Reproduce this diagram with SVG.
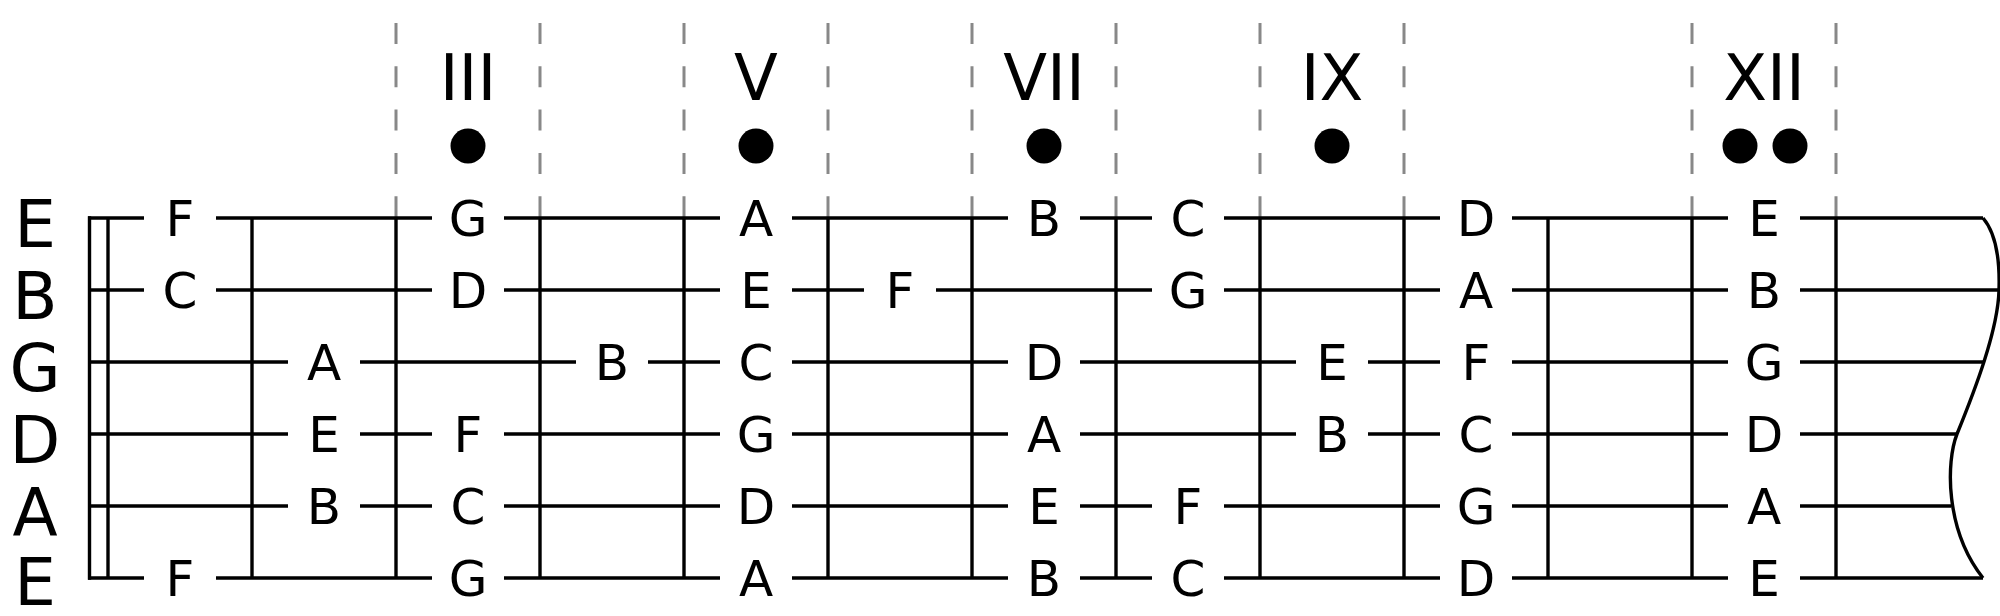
<svg xmlns="http://www.w3.org/2000/svg" width="2000" height="616" viewBox="0 0 2000 616">
<style>
.str{fill:none;stroke:#000;stroke-width:3.4}
.fret{stroke:#000;stroke-width:3.4}
.dash{stroke:#888;stroke-width:3;stroke-dasharray:21 22.3}
.note{font-family:"DejaVu Sans",sans-serif;font-size:50px;text-anchor:middle;fill:#000}
.open{font-family:"DejaVu Sans",sans-serif;font-size:66px;text-anchor:middle;fill:#000}
.roman{font-family:"DejaVu Sans",sans-serif;font-size:64px;text-anchor:middle;fill:#000}
.dot{fill:#000}
</style>
<rect width="2000" height="616" fill="#fff"/>
<g id="markers">
<line class="dash" x1="396" y1="23" x2="396" y2="218"/>
<line class="dash" x1="540" y1="23" x2="540" y2="218"/>
<line class="dash" x1="684" y1="23" x2="684" y2="218"/>
<line class="dash" x1="828" y1="23" x2="828" y2="218"/>
<line class="dash" x1="972" y1="23" x2="972" y2="218"/>
<line class="dash" x1="1116" y1="23" x2="1116" y2="218"/>
<line class="dash" x1="1260" y1="23" x2="1260" y2="218"/>
<line class="dash" x1="1404" y1="23" x2="1404" y2="218"/>
<line class="dash" x1="1692" y1="23" x2="1692" y2="218"/>
<line class="dash" x1="1836" y1="23" x2="1836" y2="218"/>
<text class="roman" x="468" y="100">III</text>
<text class="roman" x="756" y="100">V</text>
<text class="roman" x="1044" y="100">VII</text>
<text class="roman" x="1332" y="100">IX</text>
<text class="roman" x="1764" y="100">XII</text>
<circle class="dot" cx="468" cy="146" r="17.5"/>
<circle class="dot" cx="756" cy="146" r="17.5"/>
<circle class="dot" cx="1044" cy="146" r="17.5"/>
<circle class="dot" cx="1332" cy="146" r="17.5"/>
<circle class="dot" cx="1740" cy="146" r="17.5"/>
<circle class="dot" cx="1790" cy="146" r="17.5"/>
</g>
<g id="frets">
<line class="fret" x1="89.5" y1="216.3" x2="89.5" y2="579.7"/>
<line class="fret" x1="108" y1="218" x2="108" y2="578"/>
<line class="fret" x1="252" y1="218" x2="252" y2="578"/>
<line class="fret" x1="396" y1="218" x2="396" y2="578"/>
<line class="fret" x1="540" y1="218" x2="540" y2="578"/>
<line class="fret" x1="684" y1="218" x2="684" y2="578"/>
<line class="fret" x1="828" y1="218" x2="828" y2="578"/>
<line class="fret" x1="972" y1="218" x2="972" y2="578"/>
<line class="fret" x1="1116" y1="218" x2="1116" y2="578"/>
<line class="fret" x1="1260" y1="218" x2="1260" y2="578"/>
<line class="fret" x1="1404" y1="218" x2="1404" y2="578"/>
<line class="fret" x1="1548" y1="218" x2="1548" y2="578"/>
<line class="fret" x1="1692" y1="218" x2="1692" y2="578"/>
<line class="fret" x1="1836" y1="218" x2="1836" y2="578"/>
<path class="str" d="M1983,218 C1995,232 2000,258 1999,290 C1998,330 1975,390 1957,434 C1946,462 1945,530 1983,578"/>
</g>
<g id="strings">
<path class="str" d="M88,218H144M216,218H432M504,218H720M792,218H1008M1080,218H1152M1224,218H1440M1512,218H1728M1800,218H1983"/>
<path class="str" d="M88,290H144M216,290H432M504,290H720M792,290H864M936,290H1152M1224,290H1440M1512,290H1728M1800,290H2000"/>
<path class="str" d="M88,362H288M360,362H576M648,362H720M792,362H1008M1080,362H1296M1368,362H1440M1512,362H1728M1800,362H1984"/>
<path class="str" d="M88,434H288M360,434H432M504,434H720M792,434H1008M1080,434H1296M1368,434H1440M1512,434H1728M1800,434H1957"/>
<path class="str" d="M88,506H288M360,506H432M504,506H720M792,506H1008M1080,506H1152M1224,506H1440M1512,506H1728M1800,506H1951"/>
<path class="str" d="M88,578H144M216,578H432M504,578H720M792,578H1008M1080,578H1152M1224,578H1440M1512,578H1728M1800,578H1983"/>
</g>
<g id="open-strings">
<text class="open" x="35" y="246.5">E</text>
<text class="open" x="35" y="318.5">B</text>
<text class="open" x="35" y="390.5">G</text>
<text class="open" x="35" y="462.5">D</text>
<text class="open" x="35" y="534.5">A</text>
<text class="open" x="35" y="605">E</text>
</g>
<g id="notes-e1">
<text class="note" x="180" y="236.3">F</text>
<text class="note" x="468" y="236.3">G</text>
<text class="note" x="756" y="236.3">A</text>
<text class="note" x="1044" y="236.3">B</text>
<text class="note" x="1188" y="236.3">C</text>
<text class="note" x="1476" y="236.3">D</text>
<text class="note" x="1764" y="236.3">E</text>
</g>
<g id="notes-b">
<text class="note" x="180" y="308.3">C</text>
<text class="note" x="468" y="308.3">D</text>
<text class="note" x="756" y="308.3">E</text>
<text class="note" x="900" y="308.3">F</text>
<text class="note" x="1188" y="308.3">G</text>
<text class="note" x="1476" y="308.3">A</text>
<text class="note" x="1764" y="308.3">B</text>
</g>
<g id="notes-g">
<text class="note" x="324" y="380.3">A</text>
<text class="note" x="612" y="380.3">B</text>
<text class="note" x="756" y="380.3">C</text>
<text class="note" x="1044" y="380.3">D</text>
<text class="note" x="1332" y="380.3">E</text>
<text class="note" x="1476" y="380.3">F</text>
<text class="note" x="1764" y="380.3">G</text>
</g>
<g id="notes-d">
<text class="note" x="324" y="452.3">E</text>
<text class="note" x="468" y="452.3">F</text>
<text class="note" x="756" y="452.3">G</text>
<text class="note" x="1044" y="452.3">A</text>
<text class="note" x="1332" y="452.3">B</text>
<text class="note" x="1476" y="452.3">C</text>
<text class="note" x="1764" y="452.3">D</text>
</g>
<g id="notes-a">
<text class="note" x="324" y="524.3">B</text>
<text class="note" x="468" y="524.3">C</text>
<text class="note" x="756" y="524.3">D</text>
<text class="note" x="1044" y="524.3">E</text>
<text class="note" x="1188" y="524.3">F</text>
<text class="note" x="1476" y="524.3">G</text>
<text class="note" x="1764" y="524.3">A</text>
</g>
<g id="notes-e6">
<text class="note" x="180" y="596.3">F</text>
<text class="note" x="468" y="596.3">G</text>
<text class="note" x="756" y="596.3">A</text>
<text class="note" x="1044" y="596.3">B</text>
<text class="note" x="1188" y="596.3">C</text>
<text class="note" x="1476" y="596.3">D</text>
<text class="note" x="1764" y="596.3">E</text>
</g>
</svg>
